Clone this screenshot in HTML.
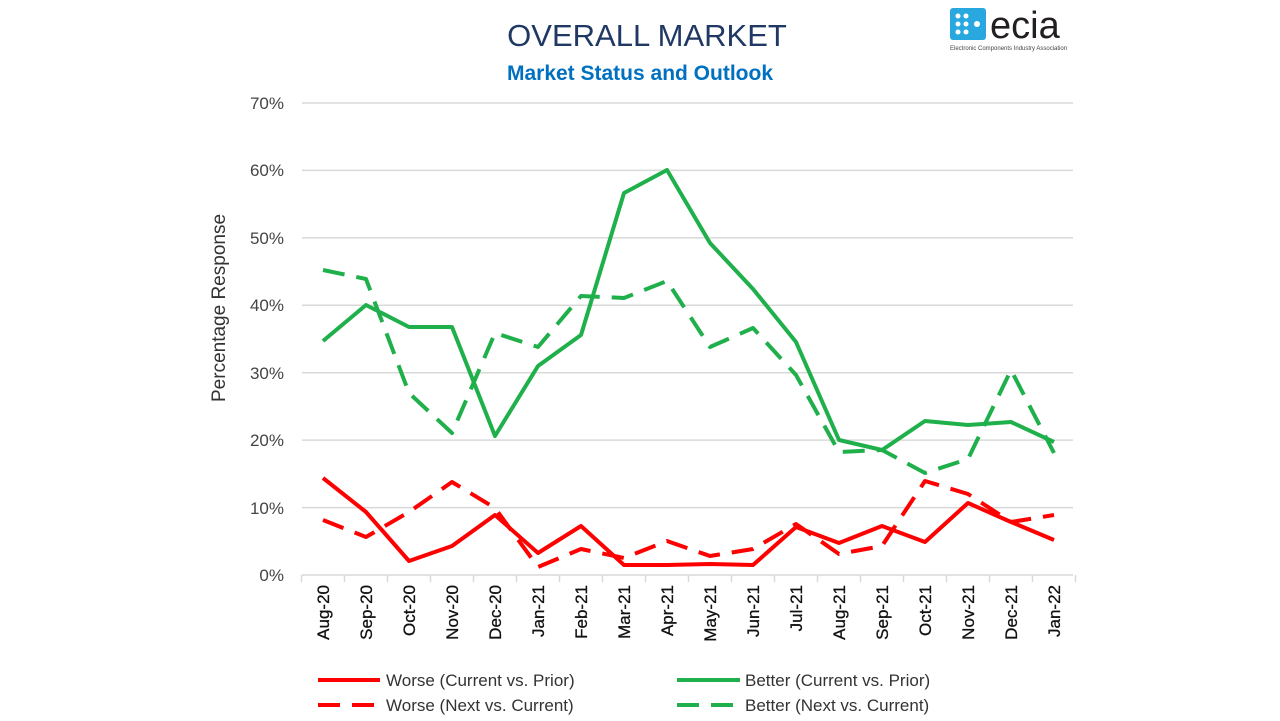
<!DOCTYPE html><html><head><style>body{margin:0;background:#fff}svg{display:block;font-family:"Liberation Sans",sans-serif}</style></head><body>
<svg width="1280" height="721" viewBox="0 0 1280 721">
<text x="647" y="46" text-anchor="middle" font-size="31" fill="#1f3864">OVERALL MARKET</text>
<text x="640" y="80" text-anchor="middle" font-size="21" font-weight="bold" fill="#0070c0">Market Status and Outlook</text>
<g>
<rect x="950" y="8" width="36" height="32" rx="3" fill="#29a8e0"/>
<g fill="#fff"><circle cx="958" cy="16" r="2.5"/><circle cx="966" cy="16" r="2.5"/><circle cx="958" cy="24" r="2.5"/><circle cx="966" cy="24" r="2.5"/><circle cx="958" cy="32" r="2.5"/><circle cx="966" cy="32" r="2.5"/><circle cx="977" cy="24" r="3"/></g>
<text x="990" y="38" font-size="38" fill="#231f20">ecia</text>
<text x="950" y="50" font-size="6" fill="#444">Electronic Components Industry Association</text>
</g>
<g stroke="#d9d9d9" stroke-width="1.5">
<line x1="302" x2="1073" y1="103" y2="103"/><line x1="302" x2="1073" y1="170.4" y2="170.4"/><line x1="302" x2="1073" y1="237.9" y2="237.9"/><line x1="302" x2="1073" y1="305.3" y2="305.3"/><line x1="302" x2="1073" y1="372.7" y2="372.7"/><line x1="302" x2="1073" y1="440.1" y2="440.1"/><line x1="302" x2="1073" y1="507.6" y2="507.6"/><line x1="302" x2="1073" y1="575" y2="575"/>
</g>
<g stroke="#d9d9d9" stroke-width="1.5" id="ticks"></g>
<g font-size="17" fill="#444" text-anchor="end">
<text x="284" y="109">70%</text><text x="284" y="176">60%</text><text x="284" y="244">50%</text><text x="284" y="311">40%</text><text x="284" y="379">30%</text><text x="284" y="446">20%</text><text x="284" y="514">10%</text><text x="284" y="581">0%</text>
</g>
<text transform="translate(225,308) rotate(-90)" text-anchor="middle" font-size="19" fill="#333">Percentage Response</text>
<g id="xl" font-size="17" fill="#111" stroke="#111" stroke-width="0.3" text-anchor="end"></g>
<g fill="none" stroke-width="4" stroke-linejoin="round">
<polyline id="bn" stroke="#20b04b" stroke-dasharray="22,12"/>
<polyline id="bc" stroke="#20b04b"/>
<polyline id="wn" stroke="#ff0000" stroke-dasharray="22,12"/>
<polyline id="wc" stroke="#ff0000"/>
</g>
<g stroke-width="4">
<line x1="318" x2="380" y1="680" y2="680" stroke="#ff0000"/>
<line x1="318" x2="380" y1="705" y2="705" stroke="#ff0000" stroke-dasharray="22,12"/>
<line x1="677" x2="740" y1="680" y2="680" stroke="#20b04b"/>
<line x1="677" x2="740" y1="705" y2="705" stroke="#20b04b" stroke-dasharray="22,12"/>
</g>
<g font-size="17" fill="#333">
<text x="386" y="686">Worse (Current vs. Prior)</text>
<text x="386" y="711">Worse (Next vs. Current)</text>
<text x="745" y="686">Better (Current vs. Prior)</text>
<text x="745" y="711">Better (Next vs. Current)</text>
</g>
</svg>
<script>
var d={wc:[478,512,561,546,515,553,526,565,565,564,565,527,543,526,542,503,522,540],
wn:[520,537,512,482,508,567,549,558,541,556,549,524,554,546,481,494,522,515],
bc:[341,305,327,327,436,366,335,193,170,243,289,342,440,450,421,425,422,442],
bn:[270,279,393,433,333,347,296,298,281,347,328,375,452,450,473,459,370,453]};
for(var k in d){document.getElementById(k).setAttribute('points',d[k].map(function(y,i){return (323+43*i)+','+y}).join(' '));}
var L=['Aug-20','Sep-20','Oct-20','Nov-20','Dec-20','Jan-21','Feb-21','Mar-21','Apr-21','May-21','Jun-21','Jul-21','Aug-21','Sep-21','Oct-21','Nov-21','Dec-21','Jan-22'];
var ns='http://www.w3.org/2000/svg',xl=document.getElementById('xl'),tk=document.getElementById('ticks');
for(var i=0;i<=18;i++){var l=document.createElementNS(ns,'line');var x=301.5+43*i;l.setAttribute('x1',x);l.setAttribute('x2',x);l.setAttribute('y1',575);l.setAttribute('y2',582);tk.appendChild(l);}
L.forEach(function(s,i){var t=document.createElementNS(ns,'text');t.setAttribute('transform','translate('+(329+43*i)+',585) rotate(-90)');t.textContent=s;xl.appendChild(t);});
</script>
</body></html>
